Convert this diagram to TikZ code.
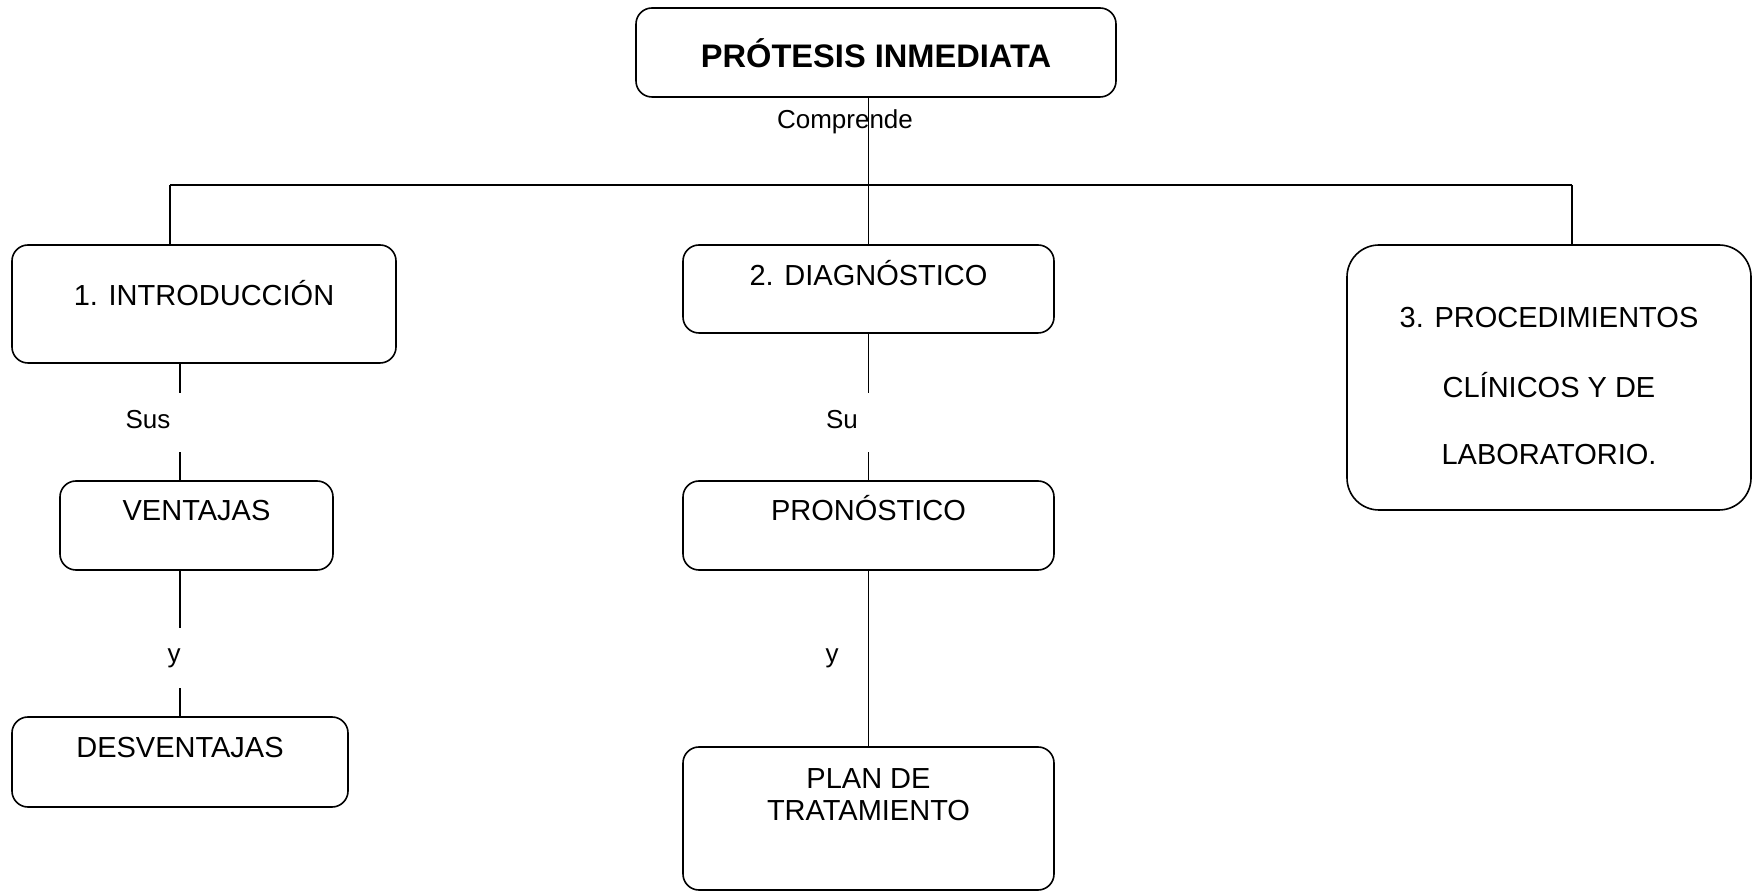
\documentclass[tikz,border=0pt]{standalone}
\usepackage{fontspec}
\setmainfont{Liberation Sans}
\usetikzlibrary{positioning,calc}
\tikzset{
    x=0.5pt, y=-0.5pt, % one unit is one pixel of the page
    box/.style={draw, rounded corners=8pt, inner sep=0pt, line width=0.8pt,
        font=\fontsize{14.5}{16}\selectfont}, % the rounded boxes
    lbl/.style={inner sep=0pt, font=\fontsize{13}{15}\selectfont}, % the linking words
    every path/.style={line width=0.8pt},
}
\newcommand{\boxlines}[1]{\begin{tabular}[t]{@{}c@{}}#1\end{tabular}}

\begin{document}
\begin{tikzpicture}
  \useasboundingbox (0,0) rectangle (1752,892);

  % top of the map
  \node[box, minimum width=240pt, minimum height=44.5pt, text height=30pt, text depth=14.5pt,
      font=\fontsize{16.3}{18}\selectfont\bfseries] (n_top) at (876,52.5) {PRÓTESIS INMEDIATA};

  % the three branches
  \node[box, minimum width=192pt, minimum height=59pt, text height=30.2pt, text depth=28.8pt]
      (n_intro) at (204,304) {1. INTRODUCCIÓN};
  \node[box, minimum width=185.5pt, minimum height=44pt, text height=20.2pt, text depth=23.8pt]
      (n_diag) at (868.5,289) {2. DIAGNÓSTICO};
  \node[box, rounded corners=16pt, minimum width=202pt, minimum height=132.5pt, text height=41.2pt, text depth=91.3pt]
      (n_proc) at (1549,377.5) {\boxlines{3. PROCEDIMIENTOS\\[17.5pt] CLÍNICOS Y DE\\[17.5pt] LABORATORIO.}};

  % below them
  \node[box, minimum width=136.5pt, minimum height=44.5pt, text height=19.7pt, text depth=24.8pt]
      (n_vent) at (196.5,525.5) {VENTAJAS};
  \node[box, minimum width=168pt, minimum height=45pt, text height=20.2pt, text depth=24.8pt]
      (n_desv) at (180,762) {DESVENTAJAS};
  \node[box, minimum width=185.5pt, minimum height=44.5pt, text height=19.7pt, text depth=24.8pt]
      (n_pron) at (868.5,525.5) {PRONÓSTICO};
  \node[box, minimum width=185.5pt, minimum height=71.5pt, text height=20.7pt, text depth=50.8pt]
      (n_plan) at (868.5,818.5) {\boxlines{PLAN DE\\ TRATAMIENTO}};

  % linking words
  \node[lbl] (l_comp) at (845,122) {Comprende};
  \node[lbl] (l_sus)  at (148,420) {Sus};
  \node[lbl] (l_su)   at (842,420) {Su};
  \node[lbl] (l_y1)   at (174,658) {y};
  \node[lbl] (l_y2)   at (832,658) {y};

  % bar under the title
  \coordinate (hubL) at (170,185);
  \coordinate (hubR) at (1572,185);
  \draw (hubL) -- (hubR);
  \draw (n_top.south -| n_diag.north) -- (n_diag.north);
  \draw (hubL) -- (hubL |- n_intro.north);
  \draw (hubR) -- (hubR |- n_proc.north);

  % left branch, broken round the words
  \draw (n_intro.south -| n_desv.north) -- +(0,29)
        (n_vent.north -| n_desv.north) -- +(0,-28);
  \draw (n_vent.south -| n_desv.north) -- +(0,57)
        (n_desv.north) -- +(0,-28);

  % middle branch
  \draw (n_diag.south) -- +(0,59)
        (n_pron.north) -- +(0,-28);
  \path (n_pron) edge (n_plan);
\end{tikzpicture}
\end{document}
